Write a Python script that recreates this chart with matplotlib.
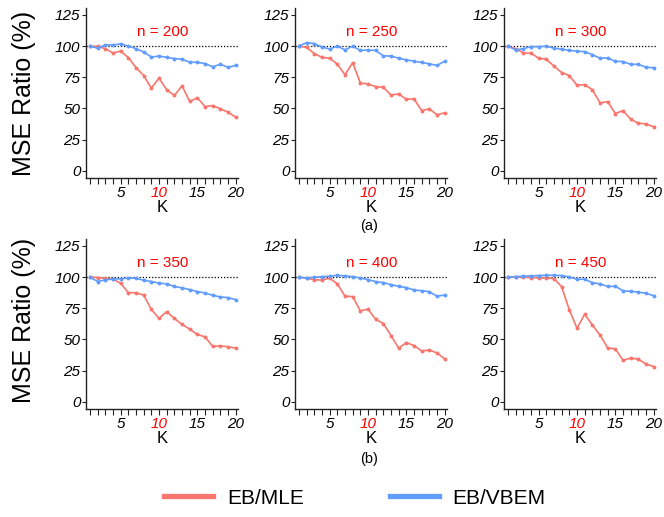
import matplotlib
matplotlib.use("Agg")
import matplotlib.pyplot as plt
from matplotlib.lines import Line2D
from matplotlib.ticker import FixedLocator
import numpy as np

plt.rcParams['font.family'] = ['Liberation Sans', 'DejaVu Sans']

K = list(range(1, 21))
sample_sizes = [200, 250, 300, 350, 400, 450]

mle_200 = [100, 99.8, 98, 94.5, 96, 90.8, 82.8, 76.4, 66.3, 74.3, 65, 60.4, 68.2, 55.6, 58.5, 51.5, 52.3, 49.7, 47, 43]
vbem_200 = [100, 98.3, 101, 101, 101.8, 100, 98, 95.3, 91.3, 92, 91, 90, 89.5, 87.1, 87, 86, 83.4, 85.5, 83, 84.5]
mle_250 = [100, 99, 94, 91, 90.3, 85.5, 77, 86.7, 70.4, 69.6, 67.5, 67, 60.8, 61.6, 57.4, 57.6, 48.3, 49.7, 44.9, 46.5]
vbem_250 = [100, 102.9, 102, 99.3, 97.7, 100, 97, 100, 96.5, 97, 96.5, 92.2, 92, 90.3, 89, 87.9, 86.9, 85.8, 84.5, 87.9]
mle_300 = [100, 98, 94.6, 94.3, 90.3, 89.5, 83.9, 78.8, 76.4, 68.6, 69.1, 65.1, 54.4, 55.5, 45.9, 48.3, 41.3, 38.1, 37.6, 35.2]
vbem_300 = [100, 97, 98, 99.6, 99.6, 100, 98.3, 97.5, 96.7, 95.9, 95.6, 93.2, 90.3, 90.5, 87.9, 87.6, 85.4, 85.4, 83, 82.7]
mle_350 = [100, 99.7, 99, 98.5, 95, 87.5, 87.5, 85.6, 74.1, 66.9, 72.3, 66.9, 62, 58.3, 54, 52.1, 44.4, 44.9, 44.1, 43]
vbem_350 = [100, 96.5, 97.8, 98.5, 98.7, 99.3, 99, 97.5, 96.5, 95.2, 94.6, 92.5, 91.4, 90, 88.4, 87.3, 85.4, 84.1, 83.6, 81.9]
mle_400 = [100, 99, 97.9, 97.6, 99.2, 94.6, 84.7, 84.4, 72.9, 74.3, 66.2, 62.8, 53.1, 43, 47.5, 45.1, 40.8, 41.4, 39.2, 34.4]
vbem_400 = [100, 99.3, 99.9, 100.4, 100.7, 101.5, 101, 100.4, 99.3, 98, 96.4, 95.6, 94, 92.6, 91.6, 89.7, 89.1, 88.3, 84.8, 85.6]
mle_450 = [100, 100, 100, 99.7, 99.4, 99.2, 98.9, 92.2, 73.7, 59, 70.2, 61.6, 53.6, 43.2, 42.4, 33.3, 35.1, 34.1, 30.3, 28.2]
vbem_450 = [100, 100.4, 100.7, 101, 101.3, 101.5, 101.5, 101.3, 100.2, 98.3, 98.3, 95.6, 94.6, 92.6, 92.6, 89.1, 88.6, 88, 87, 85.1]

mle_series = [mle_200, mle_250, mle_300, mle_350, mle_400, mle_450]
vbem_series = [vbem_200, vbem_250, vbem_300, vbem_350, vbem_400, vbem_450]

y_ticks = [0, 25, 50, 75, 100, 125]
x_major = [5, 10, 15, 20]
series_names = ['EB/MLE', 'EB/VBEM']
panel_labels = ['(a)', '(b)']

RED = '#F8766D'
BLUE = '#619CFF'

W, H = 664, 517
fig = plt.figure(figsize=(W / 100, H / 100), dpi=100)

lefts = [86, 295, 504]
rows = [(8, 178), (239, 409)]
aw = 152

for i in range(6):
    r, c = divmod(i, 3)
    top, bot = rows[r]
    ax = fig.add_axes([lefts[c] / W, 1 - bot / H, aw / W, (bot - top) / H])
    ax.axhline(100, color='black', linestyle=(0, (1, 1.5)), linewidth=0.9, zorder=1)
    ax.plot(K, mle_series[i], color=RED, linewidth=1.2, marker='o', markersize=1.8, zorder=2)
    ax.plot(K, vbem_series[i], color=BLUE, linewidth=1.2, marker='o', markersize=1.8, zorder=3)
    ax.set_xlim(0.48, 20.3)
    ax.set_ylim(-5.8, 130.6)
    ax.spines['top'].set_visible(False)
    ax.spines['right'].set_visible(False)
    for s in ['left', 'bottom']:
        ax.spines[s].set_color('#222222')
        ax.spines[s].set_linewidth(1.0)
    ax.xaxis.set_major_locator(FixedLocator(x_major))
    ax.xaxis.set_minor_locator(FixedLocator(K))
    ax.set_yticks(y_ticks)
    ax.set_xticklabels([str(v) for v in x_major], fontsize=11, style='italic')
    ax.set_yticklabels([str(v) for v in y_ticks], fontsize=11, style='italic')
    ax.get_xticklabels()[1].set_color('red')
    ax.tick_params(axis='x', which='both', direction='out', length=4, width=0.8, color='#222222', pad=2)
    ax.tick_params(axis='y', which='both', direction='out', length=3, width=0.8, color='#222222', pad=1)
    ax.set_xlabel('K', fontsize=12, labelpad=0)
    ax.text(10.5, 111, f'n = {sample_sizes[i]}', color='red', fontsize=11, ha='center', va='center')

# y labels
fig.text(24 / W, 1 - 93 / H, 'MSE Ratio (%)', rotation=90, fontsize=18, ha='center', va='center')
fig.text(24 / W, 1 - 320 / H, 'MSE Ratio (%)', rotation=90, fontsize=18, ha='center', va='center')

fig.text(369 / W, 1 - 226 / H, panel_labels[0], fontsize=10.5, ha='center', va='center')
fig.text(369 / W, 1 - 459 / H, panel_labels[1], fontsize=10.5, ha='center', va='center')

handles = [Line2D([], [], color=RED, linewidth=3.8, marker='o', markersize=2.5),
           Line2D([], [], color=BLUE, linewidth=3.8, marker='o', markersize=2.5)]
fig.legend(handles, series_names, loc='center', bbox_to_anchor=(355 / W, 1 - 498 / H),
           ncol=2, frameon=False, fontsize=15, handlelength=2.35, handletextpad=0.67,
           columnspacing=4.1, borderpad=0)

fig.savefig('out.png', dpi=100)
